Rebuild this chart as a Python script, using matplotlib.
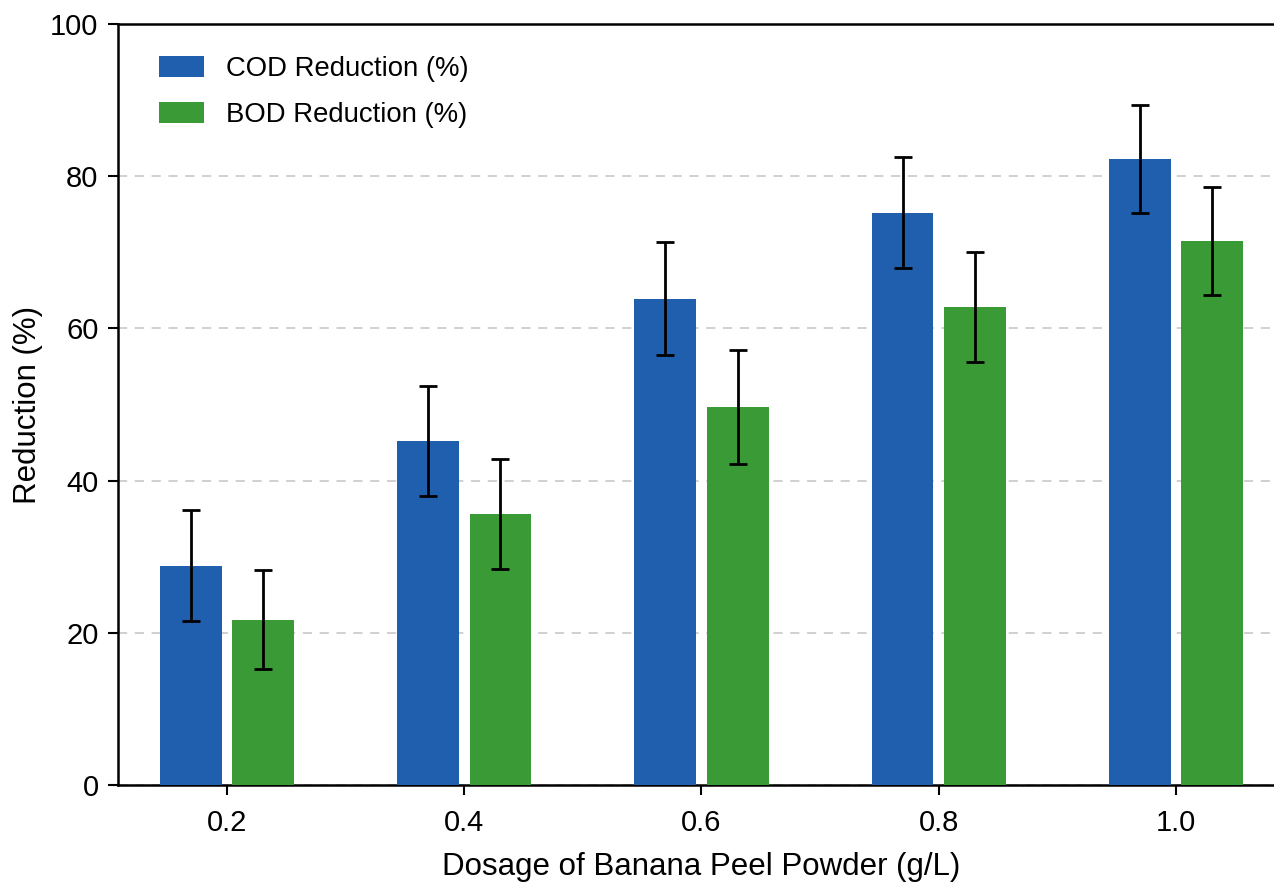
import matplotlib
matplotlib.use("Agg")
import matplotlib.pyplot as plt
import numpy as np

plt.rcParams['font.family'] = ['Liberation Sans', 'DejaVu Sans']

dosages = ["0.2", "0.4", "0.6", "0.8", "1.0"]
x_vals = [0.2, 0.4, 0.6, 0.8, 1.0]
cod_mean = [28.8, 45.2, 63.9, 75.2, 82.3]
cod_err = [7.3, 7.2, 7.4, 7.3, 7.1]
bod_mean = [21.7, 35.6, 49.7, 62.8, 71.5]
bod_err = [6.5, 7.2, 7.5, 7.2, 7.1]

W, H = 1274, 883
fig = plt.figure(figsize=(W / 100, H / 100), dpi=100)
left, right, bottom, top = 118, 1285, 785, 24
ax = fig.add_axes([left / W, 1 - bottom / H, (right - left) / W, (bottom - top) / H])

x = np.array(x_vals)
bw = 0.052
off = 0.0305
err_kw = dict(ecolor='black', elinewidth=2.0, capsize=6.3, capthick=2.0)
ax.bar(x - off, cod_mean, width=bw, color='#1f5fad', yerr=cod_err,
       error_kw=err_kw, label='COD Reduction (%)', zorder=3)
ax.bar(x + off, bod_mean, width=bw, color='#3a9a36', yerr=bod_err,
       error_kw=err_kw, label='BOD Reduction (%)', zorder=3)

ax.set_xlim(0.108, 1.092)
ax.set_ylim(0, 100)
ax.set_xticks(x)
ax.set_xticklabels(dosages)
ax.set_yticks([0, 20, 40, 60, 80, 100])

ax.yaxis.grid(True, linestyle=(0, (6, 5)), color='#c4c4c4', linewidth=1.1, zorder=0)
ax.set_axisbelow(True)

for s in ['left', 'bottom', 'top', 'right']:
    ax.spines[s].set_linewidth(1.8)
    ax.spines[s].set_color('black')

ax.tick_params(axis='both', direction='out', length=7, width=1.5, labelsize=21)
ax.tick_params(axis='x', pad=10)
ax.tick_params(axis='y', pad=7)

ax.set_xlabel('Dosage of Banana Peel Powder (g/L)', fontsize=22.5, labelpad=11)
ax.set_ylabel('Reduction (%)', fontsize=22.5, labelpad=5)

ax.legend(loc='upper left', frameon=False, fontsize=19.8, handlelength=1.62,
          handleheight=0.8, handletextpad=0.8, labelspacing=0.75,
          borderaxespad=0.0, bbox_to_anchor=(0.026, 0.973))

fig.savefig('out.png', dpi=100, facecolor='white')
